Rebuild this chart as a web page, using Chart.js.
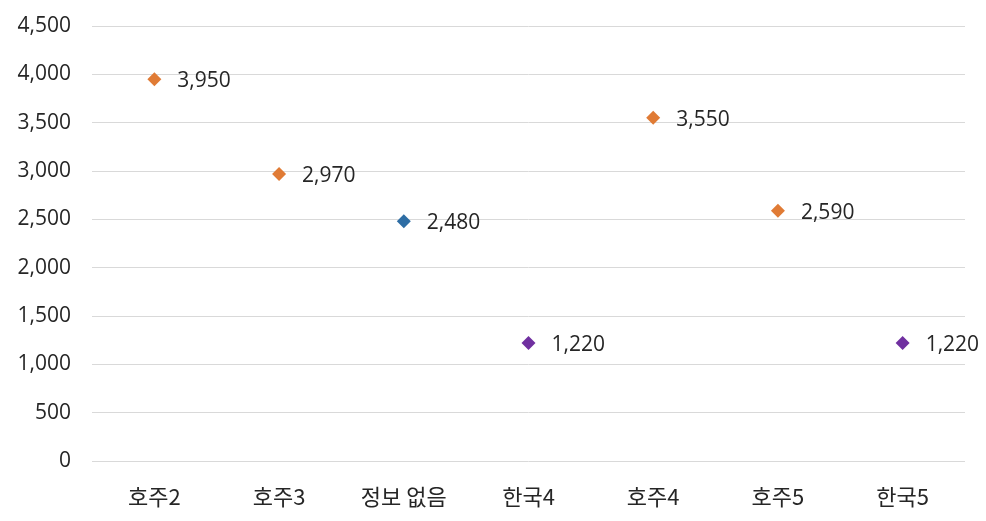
<!DOCTYPE html>
<html>
<head>
<meta charset="utf-8">
<script src="https://cdn.jsdelivr.net/npm/chart.js@4/dist/chart.umd.min.js"></script>
<style>
html,body{margin:0;padding:0;background:#fff;}
#wrap{width:986px;height:521px;position:relative;}
</style>
</head>
<body>
<div id="wrap"><canvas id="c" width="986" height="521"></canvas></div>
<script>
const categories = ['호주2', '호주3', '정보 없음', '한국4', '호주4', '호주5', '한국5'];
const values = [3950, 2970, 2480, 1220, 3550, 2590, 1220];
const groups = ['호주', '호주', '정보 없음', '한국', '호주', '호주', '한국'];
const groupColors = { '호주': '#E07B35', '정보 없음': '#2E6DA4', '한국': '#7030A0' };
const yTicks = [0, 500, 1000, 1500, 2000, 2500, 3000, 3500, 4000, 4500];

const NUMFONT = "'Open Sans', 'Noto Sans', sans-serif";
const KRFONT = "'Noto Sans CJK KR', 'Noto Sans', sans-serif";
const TEXT = '#262626';

const labelPlugin = {
  id: 'pointLabels',
  afterDatasetsDraw(chart) {
    const ctx = chart.ctx;
    const meta = chart.getDatasetMeta(0);
    ctx.save();
    ctx.font = '21px ' + NUMFONT;
    ctx.fillStyle = TEXT;
    ctx.textAlign = 'left';
    ctx.textBaseline = 'middle';
    meta.data.forEach((pt, i) => {
      ctx.fillText(values[i].toLocaleString('en-US'), pt.x + 23, pt.y + 2);
    });
    ctx.restore();
  }
};

new Chart(document.getElementById('c'), {
  type: 'line',
  data: {
    labels: categories,
    datasets: [{
      data: values,
      showLine: false,
      pointStyle: 'rectRot',
      pointRadius: 7,
      pointHoverRadius: 7,
      pointBorderWidth: 0,
      pointBackgroundColor: groups.map(g => groupColors[g]),
      pointBorderColor: groups.map(g => groupColors[g])
    }]
  },
  options: {
    responsive: false,
    animation: false,
    clip: false,
    layout: { padding: { top: 26, right: 21, bottom: 0, left: 0 } },
    plugins: { legend: { display: false }, tooltip: { enabled: false } },
    scales: {
      x: {
        offset: true,
        grid: { display: false, drawTicks: false },
        border: { display: false },
        ticks: { color: TEXT, font: { family: KRFONT, size: 22 }, padding: 22 },
        afterFit(scale) { scale.height = 60; scale.paddingLeft = 0; scale.paddingRight = 0; }
      },
      y: {
        min: 0, max: 4500,
        afterBuildTicks(scale) { scale.ticks = yTicks.map(v => ({ value: v })); },
        grid: { color: '#d9d9d9', lineWidth: 1, drawTicks: false },
        border: { display: false },
        ticks: {
          color: TEXT, font: { family: NUMFONT, size: 21 }, padding: 21,
          callback: v => v.toLocaleString('en-US')
        },
        afterFit(scale) { scale.width = 92; scale.paddingTop = 0; scale.paddingBottom = 0; }
      }
    }
  },
  plugins: [labelPlugin]
});
</script>
</body>
</html>
